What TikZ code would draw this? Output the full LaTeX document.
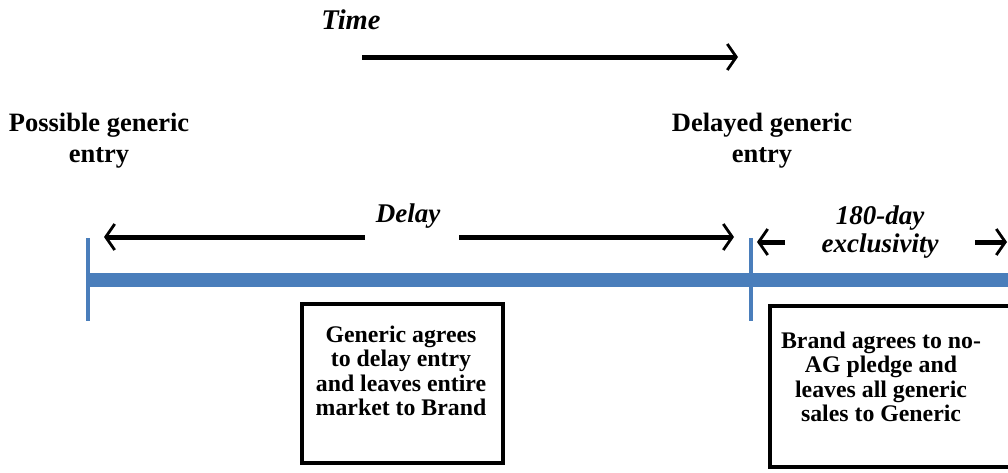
\documentclass[tikz,border=0pt]{standalone}
\usepackage{fontspec}
\setmainfont{Liberation Serif}
\usetikzlibrary{arrows.meta}
\definecolor{barblue}{HTML}{4A7EBB}
\begin{document}
\begin{tikzpicture}[x=1pt,y=-1pt,
  arr/.style={line width=5pt,-{Straight Barb[length=9pt,width=26pt,line width=2.8pt]}},
  lbl/.style={font=\bfseries\fontsize{26.5}{31}\selectfont,align=center,inner sep=0pt},
  ilbl/.style={font=\bfseries\itshape\fontsize{27}{28}\selectfont,align=center,inner sep=0pt},
  boxtxt/.style={font=\bfseries\fontsize{23.8}{24.5}\selectfont,align=center,inner sep=0pt},
  frame/.style={draw,line width=4pt},
  tick/.style={draw=barblue,line width=4pt}]
\useasboundingbox (0,0) rectangle (1008,472);
\begin{scope}
\clip (0,0) rectangle (1008,472);
% time
\node[ilbl,font=\bfseries\itshape\fontsize{28.5}{30}\selectfont] (time) at (351,20) {Time};
\coordinate (t0) at (362,57);
\coordinate (t1) at (738,57);
\draw[arr] (t0) -- (t1);
% labels
\node[lbl] (poss) at (99,141) {Possible generic\\entry};
\node[lbl] (dely) at (762,141) {Delayed generic\\entry};
% blue bar
\coordinate (b0) at (86,280);
\coordinate (b1) at (1012,280);
\draw[draw=barblue,line width=14pt] (b0) -- (b1);
\coordinate (k0a) at (88,238); \coordinate (k0b) at (88,321);
\coordinate (k1a) at (751,238); \coordinate (k1b) at (751,321);
\draw[tick] (k0a) -- (k0b);
\draw[tick] (k1a) -- (k1b);
% delay
\node[ilbl] (delay) at (408,216) {Delay};
\coordinate (d0) at (365,237); \coordinate (d0e) at (104,237);
\coordinate (d1) at (459,237); \coordinate (d1e) at (734,237);
\draw[arr] (d0) -- (d0e);
\draw[arr] (d1) -- (d1e);
% exclusivity
\node[ilbl] (excl) at (880,232) {180-day\\exclusivity};
\coordinate (e0) at (785,242); \coordinate (e0e) at (757,242);
\coordinate (e1) at (975,242); \coordinate (e1e) at (1007,242);
\draw[arr] (e0) -- (e0e);
\draw[arr] (e1) -- (e1e);
% boxes
\draw[frame] (302,304) rectangle (503,463);
\node[boxtxt] (box1) at (401,371) {Generic agrees\\to delay entry\\and leaves entire\\market to Brand};
\draw[frame] (770,306) rectangle (1030,467);
\node[boxtxt] (box2) at (881,377) {Brand agrees to no-\\AG pledge and\\leaves all generic\\sales to Generic};
\end{scope}
\end{tikzpicture}
\end{document}
